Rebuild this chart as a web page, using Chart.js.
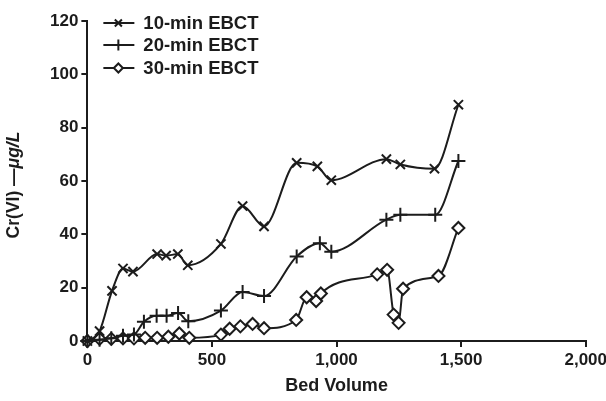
<!DOCTYPE html>
<html>
<head>
<meta charset="utf-8">
<title>Cr(VI) breakthrough</title>
<script src="https://cdn.jsdelivr.net/npm/chart.js@4"></script>
<style>
    html, body { margin: 0; padding: 0; background: #fff; overflow: hidden; }
    #wrap { position: relative; width: 610px; height: 401px; }
</style>
</head>
<body>
<div id="wrap"><canvas id="ebctChart"></canvas></div>
<script>
// series names
const seriesNames = ['10-min EBCT', '20-min EBCT', '30-min EBCT'];

// 10-min EBCT
const bv10 = [0, 49, 99, 143, 183, 280, 316, 363, 403, 536, 623, 709, 840, 923, 979, 1200, 1256, 1393, 1489];
const cr10 = [0, 3.7, 18.8, 27.2, 26, 32.6, 32, 32.6, 28.4, 36.4, 50.6, 43, 66.8, 65.5, 60.3, 68.2, 66.2, 64.6, 88.6];

// 20-min EBCT
const bv20 = [0, 49, 96, 143, 187, 227, 278, 318, 364, 405, 536, 623, 709, 840, 933, 979, 1200, 1256, 1396, 1489];
const cr20 = [0, 0.5, 1, 2, 2.4, 7.2, 9.5, 9.5, 10.5, 7.4, 11.4, 18.4, 16.9, 31.7, 36.7, 33.5, 45.5, 47.3, 47.3, 67.5];

// 30-min EBCT
const bv30 = [0, 49, 96, 143, 187, 232, 280, 325, 369, 409, 536, 571, 614, 663, 709, 838, 880, 918, 937, 1163, 1203, 1229, 1249, 1267, 1409, 1489];
const cr30 = [0, 0.8, 0.8, 1, 1, 1.2, 1.2, 1.6, 2.8, 1.2, 2.4, 4.6, 5.5, 6.4, 4.8, 7.9, 16.4, 15, 17.8, 25, 26.7, 9.9, 6.8, 19.6, 24.4, 42.4];

// axis ticks
const xTicks = [0, 500, 1000, 1500, 2000];
const yTicks = [0, 20, 40, 60, 80, 100, 120];

const ink = '#1c1c1c';
const fontFamily = '"Liberation Sans", Arial, sans-serif';

const toPoints = (xs, ys) => xs.map((x, i) => ({ x: x, y: ys[i] }));

const markers = [
    { pointStyle: 'crossRot', radius: 6.5, bg: ink },
    { pointStyle: 'cross', radius: 7, bg: ink },
    { pointStyle: 'rectRot', radius: 6, bg: '#fff' }
];

/**
 * Legend drawn as line + marker, like the original figure.
 */
const lineLegend = {
    id: 'lineLegend',
    afterDraw(chart) {
        const { ctx, chartArea } = chart;
        const rows = [chartArea.top + 2, chartArea.top + 24, chartArea.top + 47];
        ctx.save();
        chart.data.datasets.forEach((ds, i) => {
            const y = rows[i];
            ctx.strokeStyle = ink;
            ctx.lineWidth = 2;
            ctx.beginPath();
            ctx.moveTo(chartArea.left + 16, y);
            ctx.lineTo(chartArea.left + 47, y);
            ctx.stroke();
            ctx.fillStyle = markers[i].bg;
            Chart.helpers.drawPoint(ctx, {
                pointStyle: markers[i].pointStyle,
                radius: markers[i].radius - 1.5,
                borderWidth: 2
            }, chartArea.left + 31, y);
            ctx.fillStyle = ink;
            ctx.font = 'bold 18.5px ' + fontFamily;
            ctx.textBaseline = 'middle';
            ctx.textAlign = 'left';
            ctx.fillText(ds.label, chartArea.left + 56, y + 1);
        });
        ctx.restore();
    }
};

/**
 * Y axis title with the italic unit.
 */
const yTitle = {
    id: 'yTitle',
    afterDraw(chart) {
        const { ctx, chartArea } = chart;
        const partA = 'Cr(VI) \u2014';
        const partB = '\u03BCg/L';
        const fontA = 'bold 17.5px ' + fontFamily;
        const fontB = 'italic bold 17.5px ' + fontFamily;
        ctx.save();
        ctx.font = fontA;
        const wa = ctx.measureText(partA).width;
        ctx.font = fontB;
        const wb = ctx.measureText(partB).width;
        ctx.translate(14, (chartArea.top + chartArea.bottom) / 2 + 4);
        ctx.rotate(-Math.PI / 2);
        ctx.fillStyle = ink;
        ctx.textBaseline = 'middle';
        ctx.textAlign = 'left';
        const x0 = -(wa + wb) / 2;
        ctx.font = fontA;
        ctx.fillText(partA, x0, 0);
        ctx.font = fontB;
        ctx.fillText(partB, x0 + wa, 0);
        ctx.restore();
    }
};

document.addEventListener('DOMContentLoaded', () => {
    const ctx = document.getElementById('ebctChart').getContext('2d');
    const sets = [[bv10, cr10], [bv20, cr20], [bv30, cr30]];

    new Chart(ctx, {
        type: 'line',
        data: {
            datasets: sets.map((s, i) => ({
                label: seriesNames[i],
                data: toPoints(s[0], s[1]),
                borderColor: ink,
                backgroundColor: markers[i].bg,
                borderWidth: 2,
                pointStyle: markers[i].pointStyle,
                pointRadius: markers[i].radius,
                pointBorderWidth: 2,
                pointBorderColor: ink,
                pointBackgroundColor: markers[i].bg,
                cubicInterpolationMode: 'monotone',
                fill: false
            }))
        },
        options: {
            responsive: true,
            maintainAspectRatio: false,
            animation: false,
            clip: false,
            layout: { padding: { left: 47, top: 21, right: 24, bottom: 0 } },
            plugins: {
                legend: { display: false },
                tooltip: { enabled: false }
            },
            scales: {
                x: {
                    type: 'linear',
                    min: 0,
                    max: 2000,
                    afterBuildTicks: (axis) => { axis.ticks = xTicks.map(v => ({ value: v })); },
                    border: { color: ink, width: 2 },
                    grid: { drawOnChartArea: false, color: ink, lineWidth: 2, tickLength: 6 },
                    ticks: {
                        color: ink,
                        padding: 3,
                        maxRotation: 0,
                        font: { family: fontFamily, size: 17, weight: 'bold' },
                        callback: (v) => v.toLocaleString('en-US')
                    },
                    title: {
                        display: true,
                        text: 'Bed Volume',
                        color: ink,
                        padding: { top: 2, bottom: 4 },
                        font: { family: fontFamily, size: 18, weight: 'bold' }
                    }
                },
                y: {
                    min: 0,
                    max: 120,
                    afterBuildTicks: (axis) => { axis.ticks = yTicks.map(v => ({ value: v })); },
                    border: { color: ink, width: 2 },
                    grid: { drawOnChartArea: false, color: ink, lineWidth: 2, tickLength: 6 },
                    ticks: {
                        color: ink,
                        padding: 3,
                        font: { family: fontFamily, size: 17, weight: 'bold' }
                    }
                }
            }
        },
        plugins: [lineLegend, yTitle]
    });
});
</script>
</body>
</html>
